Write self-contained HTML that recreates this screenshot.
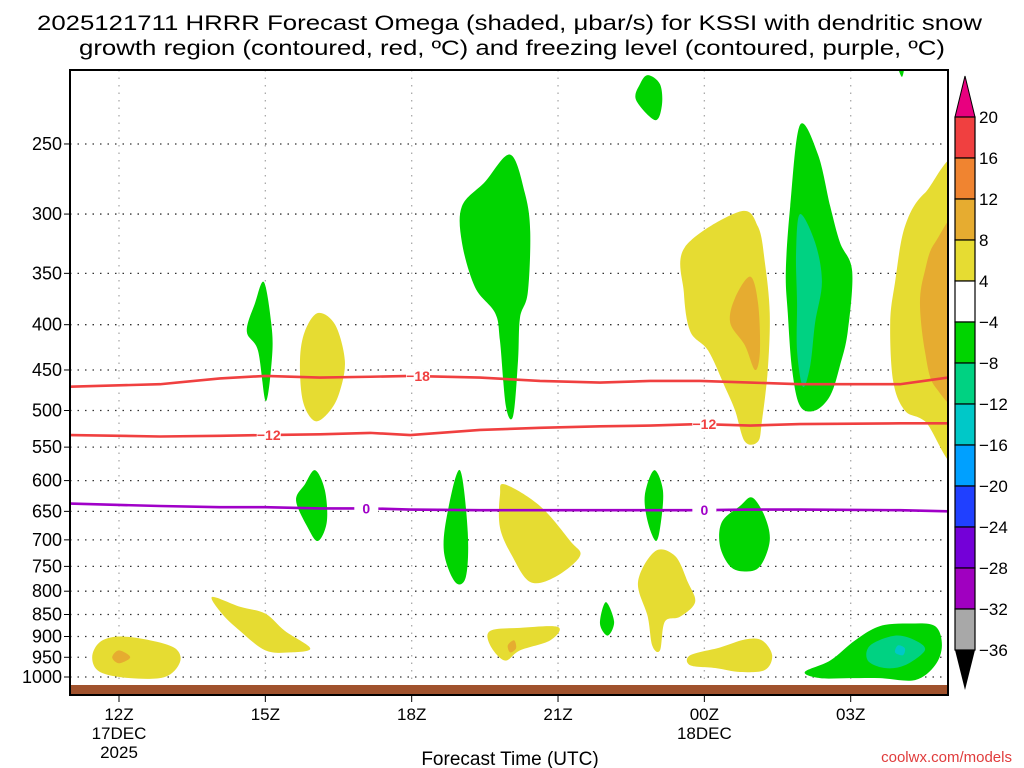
<!DOCTYPE html>
<html><head><meta charset="utf-8"><title>HRRR Omega</title>
<style>html,body{margin:0;padding:0;background:#fff}svg{display:block}text{font-family:"Liberation Sans",sans-serif}</style>
</head><body>
<svg id="chart" width="1024" height="768" viewBox="0 0 1024 768" xmlns="http://www.w3.org/2000/svg">
<defs><clipPath id="plotclip"><rect x="70" y="70" width="878" height="625"/></clipPath></defs>
<text x="37" y="30" font-size="21" textLength="945" lengthAdjust="spacingAndGlyphs" fill="#000">2025121711 HRRR Forecast Omega (shaded, μbar/s) for KSSI with dendritic snow</text>
<text x="79" y="55" font-size="21" textLength="866" lengthAdjust="spacingAndGlyphs" fill="#000">growth region (contoured, red, ºC) and freezing level (contoured, purple, ºC)</text>
<g id="grid"></g>
<g id="shading" clip-path="url(#plotclip)"></g>
<rect x="70" y="685" width="878" height="10" fill="#a0522d"/>
<g id="contours" clip-path="url(#plotclip)"></g>
<rect x="70" y="70" width="878" height="625" fill="none" stroke="#000" stroke-width="2"/>
<g id="axes"></g>
<g id="colorbar"></g>
<text x="510" y="765" font-size="19" text-anchor="middle" fill="#000">Forecast Time (UTC)</text>
<text x="1012" y="762" font-size="15" text-anchor="end" fill="#e03c3c">coolwx.com/models</text>
</svg>
<script>
const pTicks=[250,300,350,400,450,500,550,600,650,700,750,800,850,900,950,1000];
const hTicks=[0,3,6,9,12,15];
const hLabels=["12Z","15Z","18Z","21Z","00Z","03Z"];
const hSub=["17DEC","","","","18DEC",""];
const cbLevels=[20,16,12,8,4,-4,-8,-12,-16,-20,-24,-28,-32,-36];
const cbColors=["#f04040","#f08430","#e6ac30","#e6dc32","#ffffff","#00d400","#00d282","#00c8c8","#00a0ff","#2040ff","#7400d8","#a000c0","#a8a8a8"];
const blobLevels=["y","o","y","g","y","g","g","g","y","y","o","g","g","g","y","y","o","g","t","y","o","g","y","g","t","b","g"];
const blobPoints=[
[[-0.55,950],[-0.39,913],[0,900],[0.64,909],[1.15,928],[1.25,962],[0.94,1000],[0.23,1003],[-0.39,987]],
[[-0.14,950],[0,933],[0.23,950],[0,965]],
[[1.91,812],[2.48,833],[3.0,848],[3.4,887],[3.92,928],[3.51,938],[3.0,933],[2.48,887],[2.11,848]],
[[2.97,358],[3.12,398],[3.14,433],[3.01,488],[2.85,428],[2.62,407],[2.79,378]],
[[4.08,388],[4.43,400],[4.63,439],[4.53,475],[4.33,500],[4.02,514],[3.77,488],[3.71,439],[3.81,407]],
[[4.02,584],[4.22,615],[4.26,668],[4.08,702],[3.87,678],[3.63,632],[3.81,606]],
[[8.02,257],[8.32,284],[8.43,314],[8.38,368],[8.22,393],[8.18,439],[8.08,507],[7.93,494],[7.81,417],[7.71,388],[7.3,363],[7.03,323],[7.03,294],[7.5,276]],
[[6.99,584],[7.15,687],[7.11,771],[6.89,781],[6.66,721],[6.74,650]],
[[7.91,606],[8.63,641],[9.25,702],[9.45,730],[8.94,771],[8.43,781],[8.06,730],[7.81,678],[7.81,623]],
[[7.61,887],[8.22,880],[9.0,878],[8.84,909],[8.22,933],[7.91,958],[7.61,921]],
[[7.97,921],[8.1,909],[8.14,928],[8.02,938]],
[[9.98,823],[10.15,866],[10.02,898],[9.86,870]],
[[10.84,209],[11.09,214],[11.13,226],[10.99,235],[10.6,223],[10.68,214]],
[[10.97,584],[11.15,615],[11.11,668],[11.01,702],[10.84,668],[10.78,623]],
[[10.99,721],[11.4,730],[11.66,781],[11.81,823],[11.5,855],[11.19,866],[11.09,933],[10.93,921],[10.84,855],[10.64,781]],
[[11.6,327],[12.73,298],[13.1,310],[13.24,340],[13.34,388],[13.3,450],[13.18,514],[13.1,542],[12.83,542],[12.63,500],[12.42,470],[12.08,428],[11.71,407],[11.58,368]],
[[12.94,353],[13.1,378],[13.14,428],[13.04,450],[12.83,422],[12.53,398],[12.63,373]],
[[13.96,238],[14.33,257],[14.58,294],[14.78,323],[15.03,348],[14.94,407],[14.78,445],[14.58,481],[14.27,500],[13.96,494],[13.8,450],[13.71,388],[13.67,348],[13.76,294]],
[[13.96,300],[14.27,323],[14.41,358],[14.27,398],[14.17,445],[14.02,470],[13.9,428],[13.9,378],[13.88,332]],
[[17.3,270],[17.3,560],[16.52,514],[16.11,500],[15.87,463],[15.81,398],[15.91,358],[16.11,310],[16.52,284]],
[[17.3,305],[16.73,323],[16.52,348],[16.42,378],[16.52,428],[16.73,470],[17.3,481]],
[[12.98,627],[13.24,659],[13.34,702],[13.14,750],[12.83,760],[12.53,750],[12.32,711],[12.36,668],[12.73,641]],
[[11.71,945],[12.32,926],[12.83,907],[13.18,909],[13.39,945],[13.24,982],[12.73,987],[12.22,977],[11.71,970]],
[[14.06,987],[14.58,958],[15.09,909],[15.6,876],[16.22,870],[16.73,876],[16.87,921],[16.73,970],[16.32,1008],[15.6,1003],[14.98,1003],[14.37,1003]],
[[15.4,921],[15.91,898],[16.32,909],[16.52,933],[16.11,970],[15.7,977],[15.35,958]],
[[15.97,921],[16.11,928],[16.07,945],[15.91,938]],
[[15.91,198],[16.11,198],[16.05,210]]
];
const lineHours=[-1,0.84,2.07,3,4.12,5.15,5.97,7.4,8.63,9.86,10.89,11.91,12.94,13.96,16.01,17];
const lineM18=[470,467,460,457,459,458,457,459,463,465,463,463,465,467,467,459];
const lineM12=[533,535,534,533,532,530,533,526,523,521,520,518,520,518,517,517];
const line0=[637,641,643,643,645,645,647,648,648,648,648,648,647,647,648,650];
const lineLabels=[["-18",6.13,0],["-12",3.07,1],["-12",12.0,1],["0",5.07,2],["0",12.0,2]];

const NS="http://www.w3.org/2000/svg";
const xS=h=>119+48.78*h;
const yS=p=>677-384.5*Math.log(1000/p);
const colorOf={y:"#e6dc32",o:"#e6ac30",g:"#00d400",t:"#00d282",b:"#00c8c8"};
function mk(tag,attrs,parent){const e=document.createElementNS(NS,tag);for(const k in attrs)e.setAttribute(k,attrs[k]);parent.appendChild(e);return e;}
function smooth(pts){const n=pts.length;let d=`M${pts[0][0]},${pts[0][1]}`;
 for(let i=0;i<n;i++){const p0=pts[(i-1+n)%n],p1=pts[i],p2=pts[(i+1)%n],p3=pts[(i+2)%n];
 const c1=[p1[0]+(p2[0]-p0[0])/6,p1[1]+(p2[1]-p0[1])/6],c2=[p2[0]-(p3[0]-p1[0])/6,p2[1]-(p3[1]-p1[1])/6];
 d+=`C${c1[0]},${c1[1]} ${c2[0]},${c2[1]} ${p2[0]},${p2[1]}`;}return d+"Z";}

const grid=document.getElementById('grid');
pTicks.forEach(p=>{const l=mk('line',{x1:70,x2:948,y1:yS(p),y2:yS(p),stroke:'#333','stroke-width':1.3,'stroke-dasharray':'1.5 6'},grid);
 });
hTicks.forEach(h=>{const l=mk('line',{x1:xS(h),x2:xS(h),y1:70,y2:695,stroke:'#aaa','stroke-width':1.3,'stroke-dasharray':'1.5 6'},grid);
 });

const sh=document.getElementById('shading');
blobPoints.forEach((pts,i)=>{const px=pts.map(q=>[xS(q[0]),yS(q[1])]);
 const e=mk('path',{d:smooth(px),fill:colorOf[blobLevels[i]]},sh);
 
 });

const ct=document.getElementById('contours');
[[lineM18,'#f04040','isotherm-minus18'],[lineM12,'#f04040','isotherm-minus12'],[line0,'#a000c8','freezing-level']].forEach(([arr,c,nm])=>{
 const d=arr.map((p,i)=>(i?'L':'M')+xS(lineHours[i])+','+yS(p)).join('');
 const e=mk('path',{d:d,fill:'none',stroke:c,'stroke-width':2.6,'stroke-linejoin':'round'},ct);
 
 });
const lineArrs=[lineM18,lineM12,line0];const lineCols=['#f04040','#f04040','#a000c8'];
function interp(arr,h){for(let i=0;i<lineHours.length-1;i++){if(h>=lineHours[i]&&h<=lineHours[i+1]){const t=(h-lineHours[i])/(lineHours[i+1]-lineHours[i]);return arr[i]+t*(arr[i+1]-arr[i]);}}return arr[0];}
lineLabels.forEach(([txt,h,k])=>{const x=xS(h),y=yS(interp(lineArrs[k],h));
 mk('rect',{x:x-12,y:y-7,width:24,height:14,fill:'#fff'},ct);
 const t=mk('text',{x:x,y:y+5,'font-size':14,'font-weight':'bold','text-anchor':'middle',fill:lineCols[k]},ct);
 t.textContent=txt.replace('-','−');
 
 });

const ax=document.getElementById('axes');
pTicks.forEach(p=>{const t=mk('text',{x:62,y:yS(p)+6,'font-size':18,'text-anchor':'end',fill:'#000'},ax);t.textContent=p;
 
 
 mk('line',{x1:64,x2:70,y1:yS(p),y2:yS(p),stroke:'#000'},ax);});
hTicks.forEach((h,i)=>{const x=xS(h);mk('line',{x1:x,x2:x,y1:695,y2:702,stroke:'#000'},ax);
 [hLabels[i],hSub[i],i===0?'2025':''].forEach((s,j)=>{if(!s)return;const t=mk('text',{x:x,y:720+j*19,'font-size':17,'text-anchor':'middle',fill:'#000'},ax);t.textContent=s;
 
 });});

const cb=document.getElementById('colorbar');
const cbTop=117,step=533/13;
mk('path',{d:`M955,${cbTop}L965,76L975,${cbTop}Z`,fill:'#e8007f',stroke:'#000'},cb);
cbColors.forEach((c,i)=>{const r=mk('rect',{x:955,y:cbTop+i*step,width:20,height:step,fill:c,stroke:'#000','stroke-width':1.2},cb);
 
 });
const cbBot=cbTop+cbColors.length*step;
mk('path',{d:`M955,${cbBot}L965,${cbBot+40}L975,${cbBot}Z`,fill:'#000'},cb);
cbLevels.forEach((v,i)=>{const t=mk('text',{x:979,y:cbTop+i*step+6,'font-size':17,fill:'#000'},cb);t.textContent=String(v).replace('-','−');
 
 });
</script>
</body></html>
